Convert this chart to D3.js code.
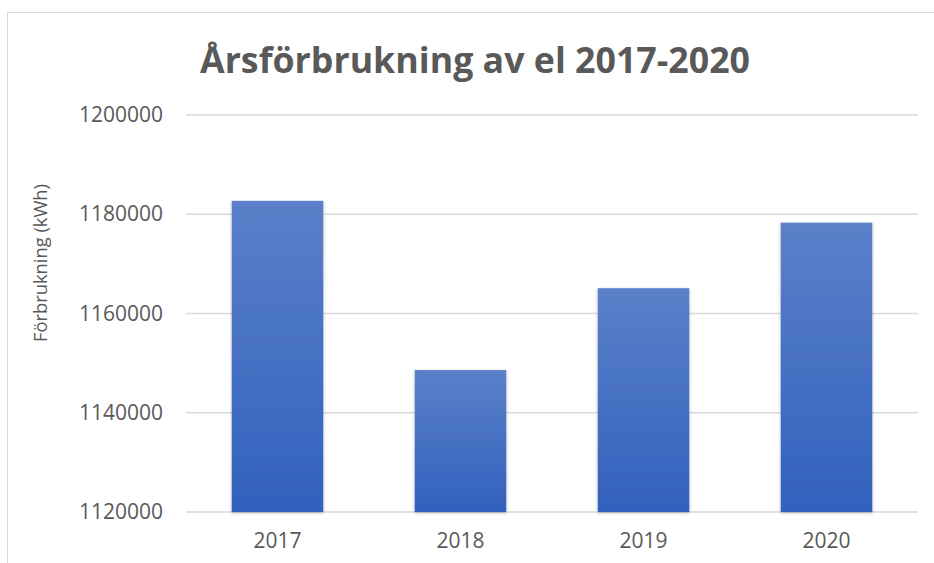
<!DOCTYPE html>
<html><head><meta charset="utf-8">
<script src="https://cdn.jsdelivr.net/npm/d3@7"></script>
<style>body{margin:0;background:#fff}svg{display:block}</style>
</head><body>
<svg id="c" width="934" height="563"></svg>
<script>
const categories = ["2017", "2018", "2019", "2020"];
const values = [1182700, 1148600, 1165100, 1178300];
const yTicks = [1120000, 1140000, 1160000, 1180000, 1200000];
const titleText = "Årsförbrukning av el 2017-2020";
const yAxisTitle = "Förbrukning (kWh)";

const svg = d3.select("#c");
const W = 934, H = 563;
const plot = {left: 186, right: 918, top: 115, bottom: 512};
const fontFam = "'Open Sans', 'Noto Sans', sans-serif";
const textCol = "#595959";

// chart border
svg.append("rect").attr("x", 7.5).attr("y", 12.5).attr("width", W).attr("height", H)
  .attr("fill", "#fff").attr("stroke", "#d9d9d9").attr("stroke-width", 1);

const defs = svg.append("defs");
const grad = defs.append("linearGradient").attr("id", "barGrad")
  .attr("x1", 0).attr("y1", 0).attr("x2", 0).attr("y2", 1);
grad.append("stop").attr("offset", "0%").attr("stop-color", "#5b80c9");
grad.append("stop").attr("offset", "100%").attr("stop-color", "#3161bd");
const filt = defs.append("filter").attr("id", "shadow")
  .attr("x", "-20%").attr("y", "-20%").attr("width", "140%").attr("height", "140%");
filt.append("feDropShadow").attr("dx", 0).attr("dy", 1).attr("stdDeviation", 1.8)
  .attr("flood-color", "#000").attr("flood-opacity", 0.3);

const x = d3.scaleBand().domain(categories).range([plot.left, plot.right])
  .paddingInner(0.5).paddingOuter(0.25);
const y = d3.scaleLinear().domain([1120000, 1200000]).range([plot.bottom, plot.top]);

// gridlines
svg.append("g").selectAll("line").data(yTicks).join("line")
  .attr("x1", plot.left).attr("x2", plot.right)
  .attr("y1", d => y(d)).attr("y2", d => y(d))
  .attr("stroke", "#d9d9d9").attr("stroke-width", 1.5);

// bars
svg.append("g").selectAll("rect").data(values).join("rect")
  .attr("x", (d, i) => x(categories[i]))
  .attr("width", x.bandwidth())
  .attr("y", d => y(d))
  .attr("height", d => y(1120000) - y(d))
  .attr("fill", "url(#barGrad)")
  .attr("filter", "url(#shadow)");

// y axis labels
const yAxis = d3.axisLeft(y).tickValues(yTicks).tickSize(0).tickPadding(0).tickFormat(d3.format("d"));
const gy = svg.append("g").attr("transform", `translate(${163},0)`).call(yAxis);
gy.select(".domain").remove();
gy.selectAll("text").attr("font-family", fontFam).attr("font-size", 21).attr("fill", textCol);

// x axis
const xAxis = d3.axisBottom(x).tickSize(0).tickPadding(0);
const gx = svg.append("g").attr("transform", `translate(0,${plot.bottom})`).call(xAxis);
gx.select(".domain").remove();
gx.selectAll("text").attr("font-family", fontFam).attr("font-size", 21).attr("fill", textCol)
  .attr("dy", null).attr("y", 36);

// title
const t = svg.append("text").attr("x", 475).attr("y", 73).attr("text-anchor", "middle")
  .attr("font-family", fontFam).attr("font-weight", 700).attr("font-size", 36)
  .attr("fill", textCol).text(titleText);
if (t.node().getComputedTextLength() > 550) t.attr("textLength", 550).attr("lengthAdjust", "spacingAndGlyphs");

// y axis title
const yt = svg.append("text").attr("transform", "translate(47,263) rotate(-90)")
  .attr("text-anchor", "middle").attr("font-family", fontFam).attr("font-size", 18.5)
  .attr("fill", textCol).text(yAxisTitle);
if (yt.node().getComputedTextLength() > 158) yt.attr("textLength", 158).attr("lengthAdjust", "spacingAndGlyphs");
</script>
</body></html>
